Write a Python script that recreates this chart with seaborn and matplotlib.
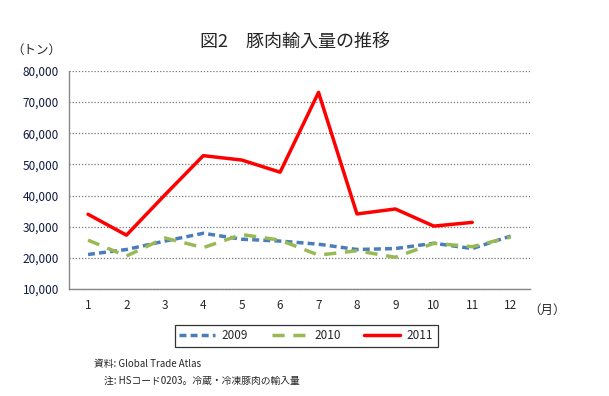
import matplotlib
matplotlib.use("Agg")
import matplotlib.pyplot as plt
import seaborn as sns
import pandas as pd

# データ
months = list(range(1, 13))
y2009 = [21100, 22700, 25400, 27900, 26000, 25400, 24400, 22700, 23000, 24700, 23000, 27000]
y2010 = [25700, 20600, 26400, 23300, 27500, 25700, 20900, 22300, 20200, 24700, 23600, 26700]
y2011 = [34000, 27300, 40200, 52800, 51400, 47500, 73100, 34100, 35700, 30200, 31400, None]
years = ["2009", "2010", "2011"]
colors = ["#4a7ebb", "#98b954", "#ff0000"]
yticks = [10000, 20000, 30000, 40000, 50000, 60000, 70000, 80000]

sns.set_theme(style="white")
plt.rcParams['font.family'] = ['Noto Sans CJK JP', 'DejaVu Sans']

df = pd.DataFrame({"month": months * 3,
                   "value": y2009 + y2010 + y2011,
                   "year": [years[0]] * 12 + [years[1]] * 12 + [years[2]] * 12})

fig = plt.figure(figsize=(6.09, 3.96), dpi=100)
ax = fig.add_axes([0.113, 0.270, 0.757, 0.551])

dashes = {"2009": (2, 1.2), "2010": (3.5, 2.5), "2011": ""}
sns.lineplot(data=df, x="month", y="value", hue="year", style="year",
             palette=colors, dashes=dashes, linewidth=2.5, ax=ax, legend=False)

ax.set_xlim(0.5, 12.5)
ax.set_ylim(10000, 80000)
ax.set_yticks(yticks)
ax.set_yticklabels([f"{v:,}" for v in yticks], fontsize=8.5, color="#0f1a40")
ax.set_xticks(months)
ax.set_xticklabels([str(m) for m in months], fontsize=8.5)
ax.tick_params(axis="both", length=0, pad=7)
ax.set_xlabel("")
ax.set_ylabel("")
ax.yaxis.grid(True, linestyle=(0, (1, 1.5)), color="#777777", linewidth=0.9)
for s in ["top", "right"]:
    ax.spines[s].set_visible(False)
for s in ["left", "bottom"]:
    ax.spines[s].set_color("#888888")
    ax.spines[s].set_linewidth(1)

fig.text(0.484, 0.892, "図2\u3000豚肉輸入量の推移", ha="center", va="center", fontsize=13)
fig.text(0.059, 0.874, "（トン）", ha="center", va="center", fontsize=9)
fig.text(0.898, 0.217, "（月）", ha="center", va="center", fontsize=9)

handles = [plt.Line2D([], [], color=colors[0], lw=2.5, dashes=(2, 1.2)),
           plt.Line2D([], [], color=colors[1], lw=2.5, dashes=(3.5, 2.5)),
           plt.Line2D([], [], color=colors[2], lw=2.5)]
leg = fig.legend(handles, years, loc="center", bbox_to_anchor=(0.503, 0.152), ncol=3,
                 fontsize=8.5, frameon=True, fancybox=False, edgecolor="black",
                 handlelength=3.0, handletextpad=0.6, columnspacing=2.0, borderpad=0.4)
leg.get_frame().set_linewidth(0.9)

fig.text(0.155, 0.081, "資料: Global Trade Atlas", ha="left", va="center", fontsize=7)
fig.text(0.17, 0.038, "注: HSコード0203。冷蔵・冷凍豚肉の輸入量", ha="left", va="center", fontsize=7)

fig.savefig("out.png", dpi=100)
